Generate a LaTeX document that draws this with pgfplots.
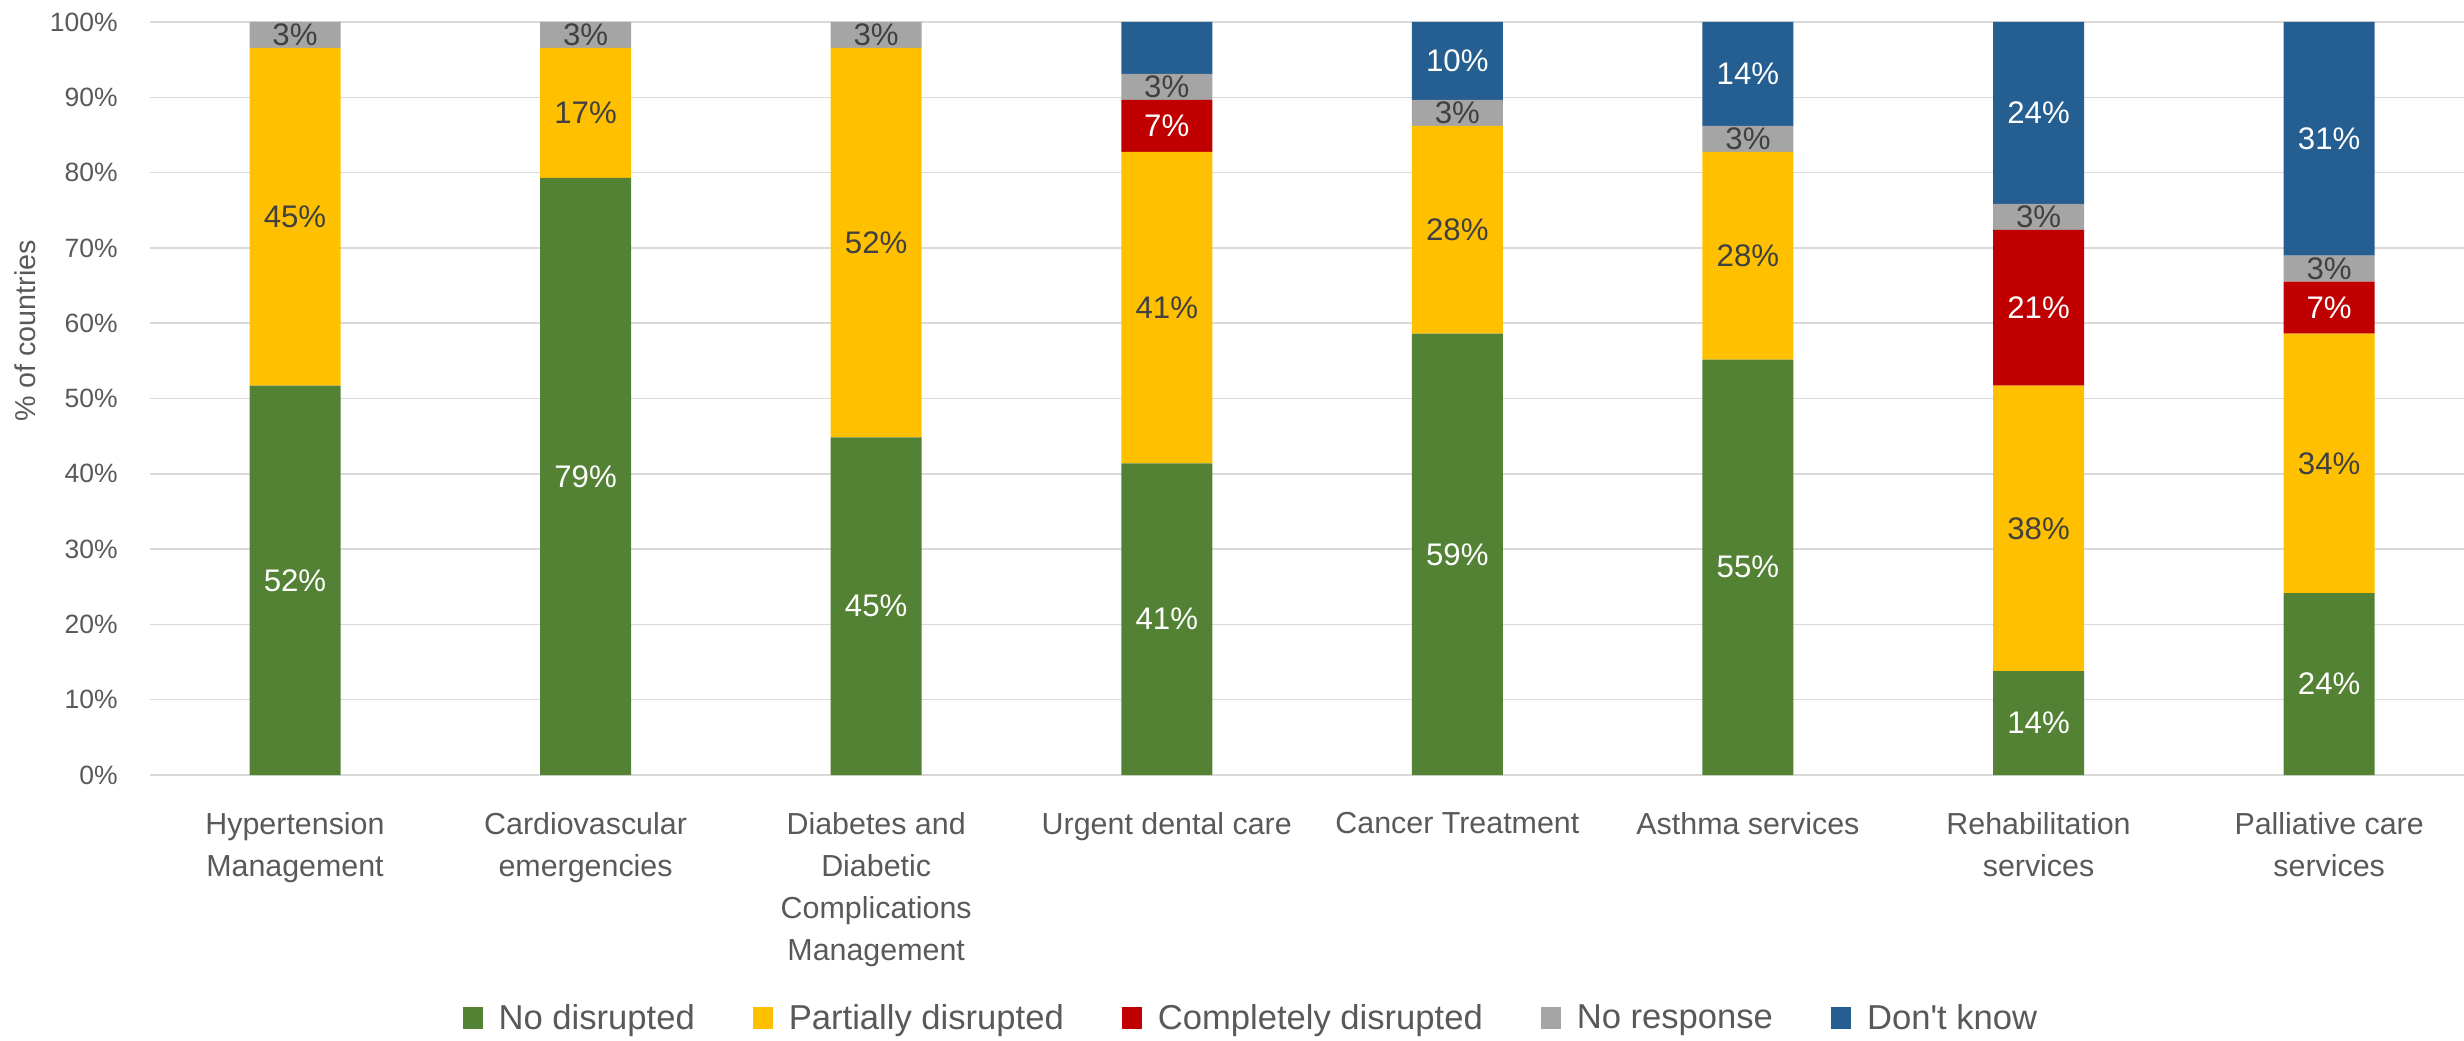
\documentclass[border=0pt]{standalone}
\usepackage{fontspec}
\setmainfont{Liberation Sans}
\usepackage{pgfplots}
\usepackage{pgfplotstable}
\pgfplotsset{compat=1.18}
\definecolor{cgreen}{HTML}{548235}
\definecolor{cyellow}{HTML}{FFC000}
\definecolor{cred}{HTML}{C00000}
\definecolor{cgray}{HTML}{A5A5A5}
\definecolor{cblue}{HTML}{255E91}
\definecolor{ctext}{HTML}{595959}
\definecolor{cdark}{HTML}{404040}
\definecolor{cgrid}{HTML}{D9D9D9}

% share of 29 countries, in percent
\pgfplotstableread{
x nd pd cd nr dk
0 51.72 44.83 0 3.45 0
1 79.31 17.24 0 3.45 0
2 44.83 51.72 0 3.45 0
3 41.38 41.38 6.90 3.45 6.90
4 58.62 27.59 0 3.45 10.34
5 55.17 27.59 0 3.45 13.79
6 13.79 37.93 20.69 3.45 24.14
7 24.14 34.48 6.90 3.45 31.03
}\datatable

\begin{document}
\begin{tikzpicture}
\useasboundingbox (0,0) rectangle (1232pt,520pt);
\begin{axis}[
  at={(75pt,132.5pt)}, anchor=south west,
  scale only axis, width=1157pt, height=376.5pt,
  ybar stacked, bar width=45.5pt,
  xmin=-0.499, xmax=7.464, ymin=0, ymax=100,
  enlargelimits=false,
  axis line style={draw=none},
  major tick length=0pt,
  tick style={draw=none},
  ymajorgrids, grid style={cgrid, line width=0.75pt},
  xtick={0,...,7},
  xticklabels={{Hypertension\\Management},{Cardiovascular\\emergencies},{Diabetes and\\Diabetic\\Complications\\Management},{Urgent dental care},{Cancer Treatment},{Asthma services},{Rehabilitation\\services},{Palliative care\\services}},
  xticklabel style={font=\fontsize{15.2}{21}\selectfont, text=ctext, align=center, anchor=north, inner sep=0pt, yshift=-18.5pt},
  ytick={0,10,...,100},
  yticklabel={\pgfmathprintnumber{\tick}\%},
  /pgf/number format/assume math mode=true,
  yticklabel style={font=\fontsize{13.25}{15}\selectfont, text=ctext, anchor=east, inner sep=0pt, xshift=-16pt},
  ylabel={\% of countries},
  ylabel style={at={(axis description cs:-0.054,0.5896)}, anchor=center, font=\fontsize{14.35}{16}\selectfont, text=ctext, inner sep=0pt},
  visualization depends on={rawy \as \rawy},
  nodes near coords={\ifdim\rawy pt>0.5pt\pgfmathprintnumber[fixed,precision=0]{\rawy}\%\fi},
  every node near coord/.append style={anchor=center, font=\fontsize{15.6}{18}\selectfont, inner sep=0pt},
  legend style={at={(axis description cs:0.4762,-0.3227)}, anchor=center, draw=none, fill=none,
    legend columns=-1, font=\fontsize{17.3}{20}\selectfont, text=ctext,
    /tikz/every even column/.append style={column sep=27pt}},
  legend image code/.code={\fill[#1] (0pt,-5.5pt) rectangle (10pt,5.5pt);},
]
\addplot[fill=cgreen, draw=none, every node near coord/.append style={text=white}] table[x=x,y=nd]{\datatable};
\addplot[fill=cyellow, draw=none, every node near coord/.append style={text=cdark}] table[x=x,y=pd]{\datatable};
\addplot[fill=cred, draw=none, every node near coord/.append style={text=white}] table[x=x,y=cd]{\datatable};
\addplot[fill=cgray, draw=none, every node near coord/.append style={text=cdark}] table[x=x,y=nr]{\datatable};
\addplot[fill=cblue, draw=none, every node near coord/.append style={text=white}] table[x=x,y=dk]{\datatable};
\legend{\hspace{6pt}No disrupted, \hspace{6pt}Partially disrupted, \hspace{6pt}Completely disrupted, \hspace{6pt}No response, \hspace{6pt}Don\textquotesingle t know}
\end{axis}
\end{tikzpicture}
\end{document}
